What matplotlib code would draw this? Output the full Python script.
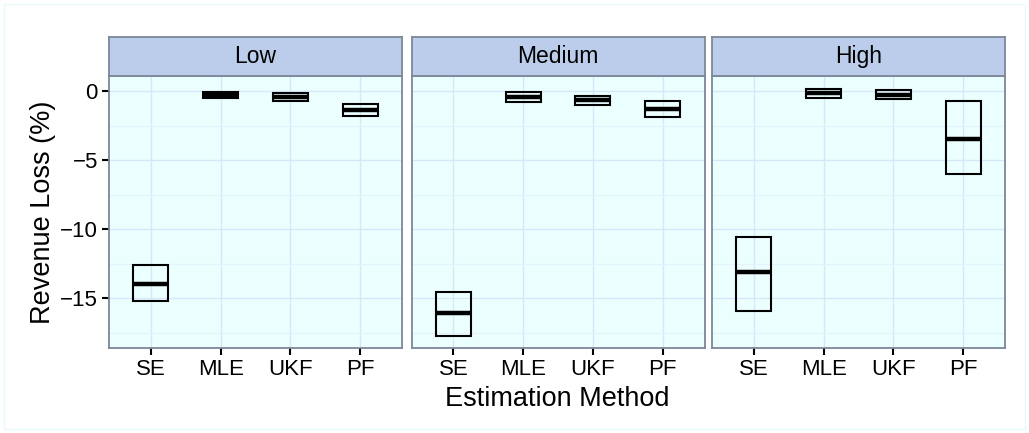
import matplotlib
matplotlib.use("Agg")
import matplotlib.pyplot as plt
from matplotlib.patches import Rectangle

plt.rcParams['font.family'] = ['Liberation Sans', 'DejaVu Sans']

methods = ["SE", "MLE", "UKF", "PF"]
levels = ["Low", "Medium", "High"]

# revenue loss (%) per level: lower, median, upper for each method
low_lower = [-15.19, -0.50, -0.72, -1.78]
low_median = [-13.93, -0.28, -0.40, -1.33]
low_upper = [-12.60, -0.07, -0.12, -0.90]

medium_lower = [-17.75, -0.77, -1.00, -1.86]
medium_median = [-16.06, -0.40, -0.67, -1.30]
medium_upper = [-14.54, -0.05, -0.34, -0.70]

high_lower = [-15.91, -0.46, -0.58, -6.00]
high_median = [-13.07, -0.15, -0.25, -3.48]
high_upper = [-10.55, 0.14, 0.07, -0.70]

data = {
    "Low": (low_lower, low_median, low_upper),
    "Medium": (medium_lower, medium_median, medium_upper),
    "High": (high_lower, high_median, high_upper),
}

W, H = 1029, 433
fig = plt.figure(figsize=(W / 100, H / 100), dpi=100)
fig.patch.set_facecolor("white")

# faint outer frame
fig.add_artist(Rectangle((4 / W, 4 / H), 1 - 8 / W, 1 - 8 / H, transform=fig.transFigure,
                         fill=False, edgecolor="#E6FAFA", linewidth=1))

panel_bg = "#EBFFFF"
strip_bg = "#BBCDEB"
border = "#7D8798"
grid_major = "#D8E6FA"
grid_minor = "#E3F2FC"

lefts = [109, 411.5, 712]
pw = 293
top_px, bot_px, strip_top = 76, 348, 37

box_w = 0.5
for i, lvl in enumerate(levels):
    l = lefts[i]
    ax = fig.add_axes([l / W, 1 - bot_px / H, pw / W, (bot_px - top_px) / H])
    ax.set_facecolor(panel_bg)
    ax.set_xlim(0.4, 4.6)
    ax.set_ylim(-18.6, 1.1)
    ax.set_xticks(range(1, 5))
    ax.set_xticklabels(methods)
    ax.set_yticks([0, -5, -10, -15])
    ax.set_yticks([-2.5, -7.5, -12.5, -17.5], minor=True)
    ax.grid(True, which="major", color=grid_major, linewidth=1.0)
    ax.grid(True, which="minor", axis="y", color=grid_minor, linewidth=0.8)
    ax.set_axisbelow(True)
    for s in ax.spines.values():
        s.set_color(border)
        s.set_linewidth(1.3)
    ax.tick_params(axis="both", which="major", length=5, width=1.5, color="black",
                   labelsize=16, labelcolor="black", pad=3)
    ax.tick_params(axis="both", which="minor", length=0)
    if i > 0:
        ax.tick_params(axis="y", which="both", left=False, labelleft=False)
    else:
        ax.set_yticklabels(["0", "\u22125", "\u221210", "\u221215"])

    lower, median, upper = data[lvl]
    for j in range(len(methods)):
        x = j + 1
        ax.add_patch(Rectangle((x - box_w / 2, lower[j]), box_w, upper[j] - lower[j],
                               fill=False, edgecolor="black", linewidth=1.5, zorder=3))
        ax.plot([x - box_w / 2, x + box_w / 2], [median[j], median[j]],
                color="black", linewidth=3.2, solid_capstyle="butt", zorder=4)

    # facet strip
    sax = fig.add_axes([l / W, 1 - top_px / H, pw / W, (top_px - strip_top) / H])
    sax.set_facecolor(strip_bg)
    sax.set_xticks([])
    sax.set_yticks([])
    for s in sax.spines.values():
        s.set_color(border)
        s.set_linewidth(1.3)
    sax.text(0.5, 0.5, lvl, ha="center", va="center", fontsize=16.5, transform=sax.transAxes)

fig.text(557 / W, 1 - 399 / H, "Estimation Method", ha="center", va="center", fontsize=19.5)
fig.text(43 / W, 1 - 212 / H, "Revenue Loss (%)", ha="center", va="center",
         rotation=90, fontsize=19.5)

fig.savefig("out.png", dpi=100)
